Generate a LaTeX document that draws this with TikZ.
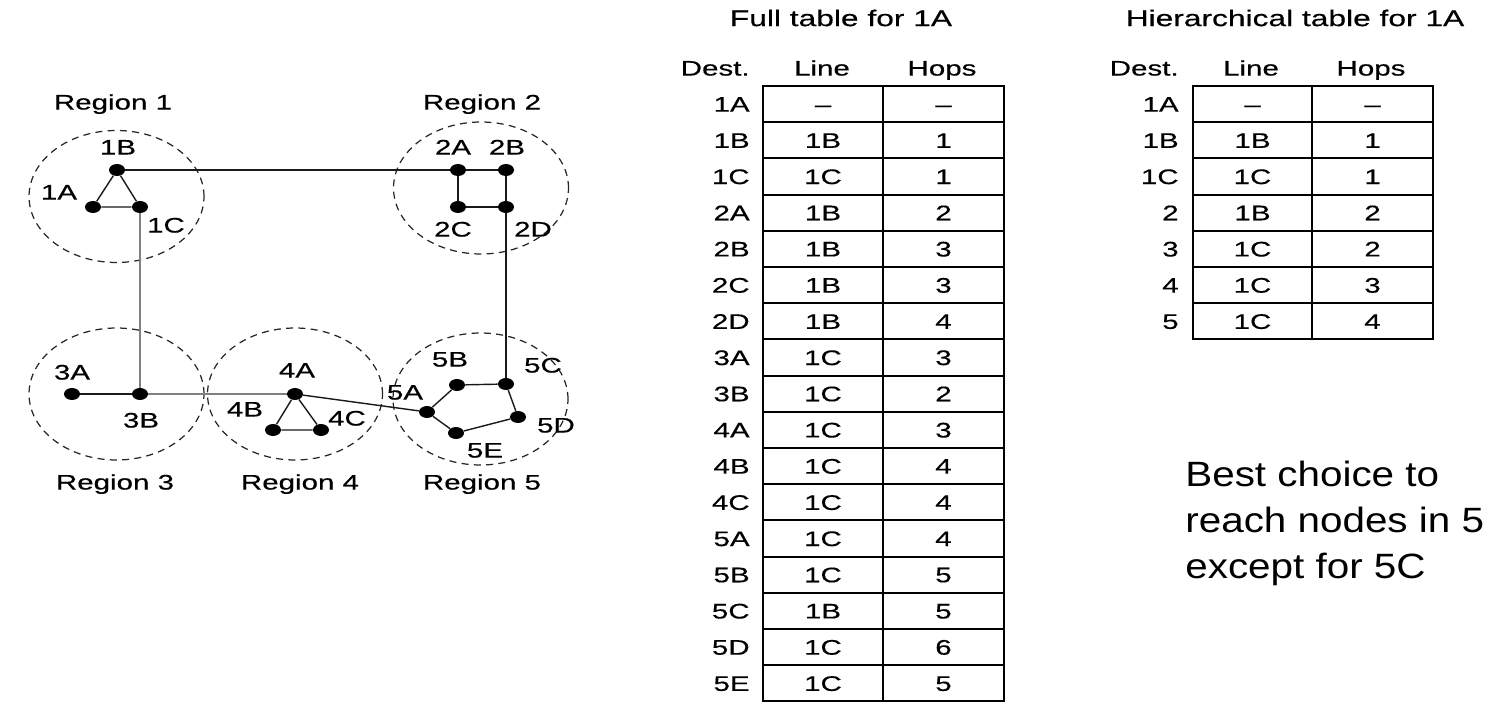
\documentclass[tikz,border=0pt]{standalone}
\usepackage{fontspec}
\usetikzlibrary{shapes.geometric}
\newfontfamily\figfont[FakeStretch=1.4, FakeBold=0.4]{Liberation Sans}
\newfontfamily\notefont[FakeStretch=1.15]{Liberation Sans}

\begin{document}
\begin{tikzpicture}[x=0.02cm, y=-0.02cm,
  lbl/.style={font=\figfont\fontsize{12}{14}\selectfont, inner sep=0pt, text height=8.6pt, text depth=0pt},
  ttl/.style={font=\figfont\fontsize{12.9}{15}\selectfont, inner sep=0pt, text height=9.2pt, text depth=0pt},
  dot/.style={ellipse, fill=black, inner sep=0pt, minimum width=0.32cm, minimum height=0.24cm},
  region/.style={ellipse, draw=black!85, line width=0.7pt, dash pattern=on 4pt off 3pt, minimum width=3.5cm, minimum height=2.64cm, inner sep=0pt},
  link/.style={line width=0.8pt, black!90},
  glink/.style={line width=1pt, black!50},
  tab/.style={line width=1.1pt}]
  \useasboundingbox (0,0) rectangle (1512,702);

  \node[region] (reg1) at (116.5,196.5) {};
  \node[region] (reg2) at (481,188) {};
  \node[region] (reg3) at (116.5,394) {};
  \node[region] (reg4) at (295,394) {};
  \node[region] (reg5) at (480.5,399) {};
  \node[lbl] (r1) at (113,102) {Region 1};
  \node[lbl] (r2) at (482,102) {Region 2};
  \node[lbl] (r3) at (115,482) {Region 3};
  \node[lbl] (r4) at (300,482) {Region 4};
  \node[lbl] (r5) at (482,482) {Region 5};

  \node[dot] (n1A) at (93,207) {};
  \node[dot] (n1B) at (117,170) {};
  \node[dot] (n1C) at (140,207) {};
  \node[dot] (n2A) at (458,170) {};
  \node[dot] (n2B) at (506,170) {};
  \node[dot] (n2C) at (458,207) {};
  \node[dot] (n2D) at (506,207) {};
  \node[dot] (n3A) at (72,394) {};
  \node[dot] (n3B) at (140,394) {};
  \node[dot] (n4A) at (295,394) {};
  \node[dot] (n4B) at (273,430) {};
  \node[dot] (n4C) at (321,430) {};
  \node[dot] (n5A) at (427,412) {};
  \node[dot] (n5B) at (457,385) {};
  \node[dot] (n5C) at (506,384) {};
  \node[dot] (n5D) at (518,417) {};
  \node[dot] (n5E) at (456,433) {};

  \node[lbl] (l1A) at (59,192) {1A};
  \node[lbl] (l1B) at (118,147) {1B};
  \node[lbl] (l1C) at (166,225) {1C};
  \node[lbl] (l2A) at (453,147) {2A};
  \node[lbl] (l2B) at (507,147) {2B};
  \node[lbl] (l2C) at (453,229) {2C};
  \node[lbl] (l2D) at (533,229) {2D};
  \node[lbl] (l3A) at (72,372) {3A};
  \node[lbl] (l3B) at (141,420) {3B};
  \node[lbl] (l4A) at (297,370) {4A};
  \node[lbl] (l4B) at (245,409) {4B};
  \node[lbl] (l4C) at (347,418) {4C};
  \node[lbl] (l5A) at (405,392) {5A};
  \node[lbl] (l5B) at (450,359) {5B};
  \node[lbl] (l5C) at (543,365) {5C};
  \node[lbl] (l5D) at (556,425) {5D};
  \node[lbl] (l5E) at (485,450) {5E};

  \draw[link] (n1A) -- (n1B) -- (n1C) -- (n1A);
  \draw[link] (n1B) -- (n2A);
  \draw[link] (n2A) -- (n2B) -- (n2D) -- (n2C) -- (n2A);
  \draw[link] (n2D) -- (n5C);
  \draw[glink] (n1C) -- (n3B);
  \draw[link] (n3A) -- (n3B);
  \draw[glink] (n3B) -- (n4A);
  \draw[link] (n4A) -- (n4B) -- (n4C) -- (n4A);
  \draw[link] (n4A) -- (n5A);
  \draw[link] (n5A) -- (n5B) -- (n5C) -- (n5D) -- (n5E) -- (n5A);

  \node[ttl] (full) at (841,18) {Full table for 1A};
  \node[lbl, anchor=east] (fdest) at (750,68) {Dest.};
  \node[lbl] (fline) at (822,68) {Line};
  \node[lbl] (fhops) at (942,68) {Hops};
  \foreach \d/\l/\h [count=\i from 0] in {1A/–/–, 1B/1B/1, 1C/1C/1, 2A/1B/2, 2B/1B/3, 2C/1B/3, 2D/1B/4, 3A/1C/3, 3B/1C/2, 4A/1C/3, 4B/1C/4, 4C/1C/4, 5A/1C/4, 5B/1C/5, 5C/1B/5, 5D/1C/6, 5E/1C/5}{
    \draw[tab] (763,{86+36.2*\i}) rectangle (883,{122.2+36.2*\i}) (883,{86+36.2*\i}) rectangle (1004,{122.2+36.2*\i});
    \node[lbl, anchor=east] (fd\i) at (750,{104.1+36.2*\i}) {\d};
    \node[lbl] (fl\i) at (823,{104.1+36.2*\i}) {\l};
    \node[lbl] (fh\i) at (943.5,{104.1+36.2*\i}) {\h};
  }

  \node[ttl] (hier) at (1295,18) {Hierarchical table for 1A};
  \node[lbl, anchor=east] (hdest) at (1179,68) {Dest.};
  \node[lbl] (hline) at (1251,68) {Line};
  \node[lbl] (hhops) at (1371,68) {Hops};
  \foreach \d/\l/\h [count=\i from 0] in {1A/–/–, 1B/1B/1, 1C/1C/1, 2/1B/2, 3/1C/2, 4/1C/3, 5/1C/4}{
    \draw[tab] (1193,{86+36.2*\i}) rectangle (1312,{122.2+36.2*\i}) (1312,{86+36.2*\i}) rectangle (1433,{122.2+36.2*\i});
    \node[lbl, anchor=east] (hd\i) at (1179,{104.1+36.2*\i}) {\d};
    \node[lbl] (hl\i) at (1252.5,{104.1+36.2*\i}) {\l};
    \node[lbl] (hh\i) at (1372.5,{104.1+36.2*\i}) {\h};
  }

  \node[font=\notefont\fontsize{20}{24}\selectfont, inner sep=0pt, anchor=base west] (best1) at (1185,487) {Best choice to};
  \node[font=\notefont\fontsize{20}{24}\selectfont, inner sep=0pt, anchor=base west] (best2) at (1185,533) {reach nodes in 5};
  \node[font=\notefont\fontsize{20}{24}\selectfont, inner sep=0pt, anchor=base west] (best3) at (1185,579) {except for 5C};
\end{tikzpicture}
\end{document}
